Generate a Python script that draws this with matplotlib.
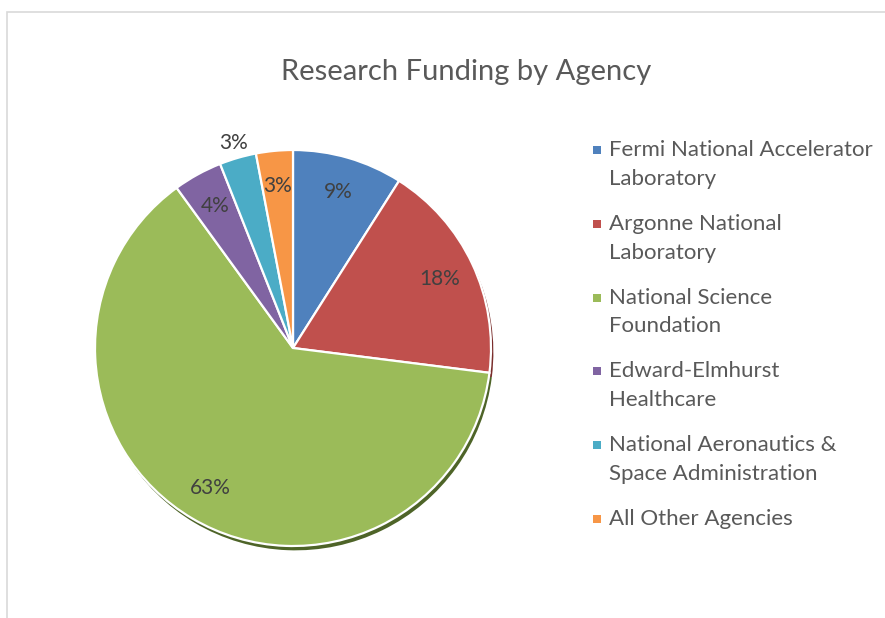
import matplotlib
matplotlib.use("Agg")
import matplotlib.pyplot as plt
from matplotlib.patches import Rectangle
import numpy as np

# ---------- data ----------
agencies = [
    "Fermi National Accelerator\nLaboratory",
    "Argonne National\nLaboratory",
    "National Science\nFoundation",
    "Edward-Elmhurst\nHealthcare",
    "National Aeronautics &\nSpace Administration",
    "All Other Agencies",
]
shares = [9, 18, 63, 4, 3, 3]
colors = ["#4F81BD", "#C0504D", "#9BBB59", "#8064A2", "#4BACC6", "#F79646"]
shadow_colors = ["#2E4E78", "#7A2E2C", "#4E6428", "#47375C", "#2A6A7C", "#9A5A24"]

TEXT = "#595959"
plt.rcParams["font.family"] = ["Lato", "DejaVu Sans"]

fig = plt.figure(figsize=(8.85, 6.18), dpi=100)
W, H = 885, 618

# chart-area frame (cropped Excel chart: only left/top edges visible)
fig.patches.append(Rectangle((7 / W, -0.1), 1.2, 1 - 12 / H + 0.1,
                             transform=fig.transFigure, fill=False,
                             edgecolor="#D9D9D9", linewidth=1.2))

fig.text(466 / W, 1 - 72 / H, "Research Funding by Agency", ha="center",
         va="center", fontsize=21, color=TEXT)

# pie axes: centre (293, 347) px, radius 200 px
cx, cy, r = 293, 348, 198
ax = fig.add_axes([(cx - r) / W, 1 - (cy + r) / H, 2 * r / W, 2 * r / H])

# shadow underneath
ax.pie(shares, colors=shadow_colors, startangle=90, counterclock=False,
       radius=1.0, center=(0.012, -0.022),
       wedgeprops=dict(linewidth=0))

wedges, texts, autotexts = ax.pie(
    shares, colors=colors, startangle=90, counterclock=False, radius=1.0,
    autopct="%1.0f%%", pctdistance=0.82,
    wedgeprops=dict(edgecolor="white", linewidth=1.6),
    textprops=dict(color="#404040", fontsize=15),
)

# the small NASA label sits outside the pie
w = wedges[4]
mid = np.deg2rad((w.theta1 + w.theta2) / 2)
autotexts[4].set_position((1.08 * np.cos(mid), 1.08 * np.sin(mid)))

ax.set_xlim(-1, 1)
ax.set_ylim(-1, 1)
ax.set_aspect("equal")
ax.axis("off")

# legend, Excel style: marker beside the first line of each entry
x_mark, x_text, y_top, pitch = 593, 609, 140, 73.8
for i, (lab, col) in enumerate(zip(agencies, colors)):
    y = y_top + i * pitch
    fig.text(x_text / W, 1 - y / H, lab, ha="left", va="top", fontsize=16,
             color=TEXT, linespacing=1.55)
    fig.patches.append(Rectangle((x_mark / W, 1 - (y + 14) / H), 8 / W, 8 / H,
                                 transform=fig.transFigure, facecolor=col,
                                 edgecolor="none"))

fig.savefig("out.png", dpi=100)
